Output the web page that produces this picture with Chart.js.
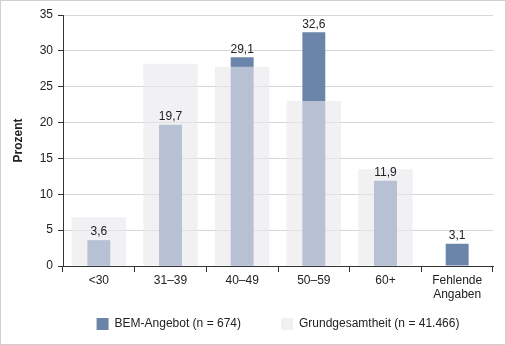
<!DOCTYPE html>
<html>
<head>
<meta charset="utf-8">
<script src="https://cdn.jsdelivr.net/npm/chart.js@4/dist/chart.umd.min.js"></script>
<style>
  html, body { margin: 0; padding: 0; background: #fff; }
  #wrap { width: 506px; height: 345px; box-sizing: border-box; border: 1px solid #cfcfcf; position: relative; }
</style>
</head>
<body>
<div id="wrap"><canvas id="chart"></canvas></div>
<script>
// Altersgruppen
const categories = ['<30', '31–39', '40–49', '50–59', '60+', ['Fehlende', 'Angaben']];
// BEM-Angebot (n = 674), Prozent
const bemValues = [3.6, 19.7, 29.1, 32.6, 11.9, 3.1];
// Grundgesamtheit (n = 41.466), Prozent
const grundValues = [6.8, 28.2, 27.8, 23.0, 13.5, null];
const yTicks = [0, 5, 10, 15, 20, 25, 30, 35];

const fontFamily = "'Liberation Sans', Arial, sans-serif";
const textColor = '#222222';

// Werte über den BEM-Balken
const valueLabels = {
    id: 'valueLabels',
    afterDatasetsDraw(chart) {
        const ctx = chart.ctx;
        const meta = chart.getDatasetMeta(1);
        ctx.save();
        ctx.font = '12px ' + fontFamily;
        ctx.fillStyle = textColor;
        ctx.textAlign = 'center';
        ctx.textBaseline = 'bottom';
        meta.data.forEach((bar, i) => {
            const label = bemValues[i].toFixed(1).replace('.', ',');
            ctx.fillText(label, bar.x, bar.y - 2);
        });
        ctx.restore();
    }
};

const ctx = document.getElementById('chart').getContext('2d');
new Chart(ctx, {
    type: 'bar',
    data: {
        labels: categories,
        datasets: [
            {
                label: 'Grundgesamtheit (n = 41.466)',
                data: grundValues,
                backgroundColor: 'rgba(232, 232, 237, 0.61)',
                barPercentage: 0.76,
                categoryPercentage: 1.0,
                grouped: false
            },
            {
                label: 'BEM-Angebot (n = 674)',
                data: bemValues,
                backgroundColor: '#6a84aa',
                barPercentage: 0.32,
                categoryPercentage: 1.0,
                grouped: false
            }
        ]
    },
    options: {
        responsive: true,
        maintainAspectRatio: false,
        animation: false,
        layout: {
            padding: { top: 14, right: 12, bottom: 4, left: 0 }
        },
        plugins: {
            legend: {
                position: 'bottom',
                fullSize: false,
                labels: {
                    color: textColor,
                    font: { family: fontFamily, size: 12 },
                    boxWidth: 12,
                    boxHeight: 12,
                    padding: 10,
                    sort: (a, b) => b.datasetIndex - a.datasetIndex,
                    generateLabels(chart) {
                        const items = Chart.defaults.plugins.legend.labels.generateLabels(chart);
                        items.forEach(item => {
                            item.lineWidth = 0;
                            // etwas mehr Abstand nach dem ersten Eintrag
                            if (item.datasetIndex === 1) item.text += '\u2003\u2003\u2002';
                        });
                        return items;
                    }
                }
            },
            tooltip: { enabled: false }
        },
        scales: {
            x: {
                grid: {
                    offset: true,
                    drawOnChartArea: false,
                    drawTicks: true,
                    tickLength: 6,
                    color: '#333333'
                },
                border: { color: '#333333', width: 1 },
                ticks: {
                    color: textColor,
                    font: { family: fontFamily, size: 12 },
                    padding: 1,
                    maxRotation: 0
                },
                afterFit(scale) { scale.height = 42; }
            },
            y: {
                min: 0,
                max: 35,
                afterBuildTicks(scale) { scale.ticks = yTicks.map(v => ({ value: v })); },
                grid: {
                    color: '#d6d6d6',
                    drawTicks: true,
                    tickLength: 5,
                    tickColor: '#333333'
                },
                border: { color: '#333333', width: 1 },
                ticks: {
                    color: textColor,
                    font: { family: fontFamily, size: 12 },
                    padding: 5
                },
                title: {
                    display: true,
                    text: 'Prozent',
                    color: textColor,
                    font: { family: fontFamily, size: 12, weight: 'bold' },
                    padding: { top: 10, bottom: 0 }
                },
                afterFit(scale) { scale.width = 62; }
            }
        }
    },
    plugins: [valueLabels]
});
</script>
</body>
</html>
